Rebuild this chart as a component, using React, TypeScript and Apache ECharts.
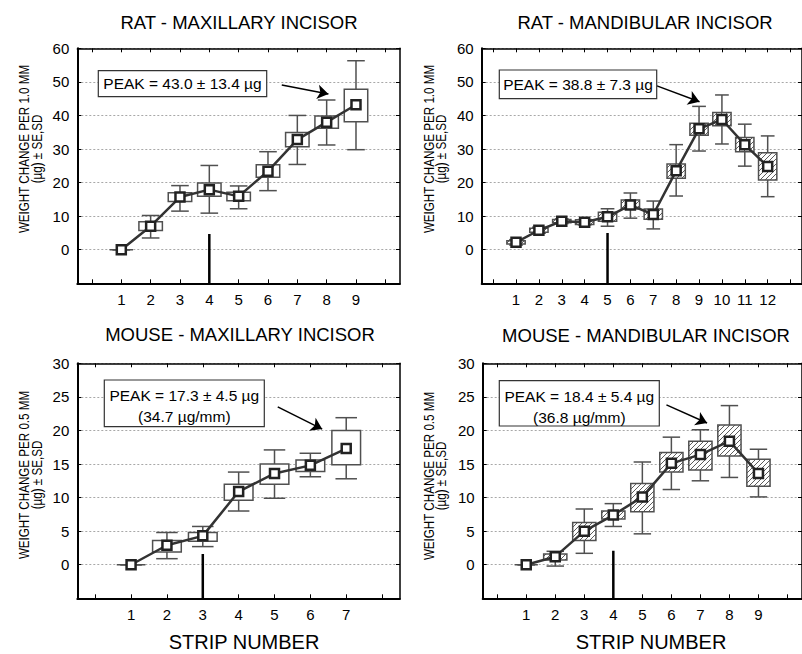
import React, { useEffect, useRef } from "react";
import * as echarts from "echarts";

const FONT = "'Liberation Sans', Arial, sans-serif";

// ---------- Rat, maxillary incisor ----------
const ratMaxStrips = [1, 2, 3, 4, 5, 6, 7, 8, 9];
const ratMaxMean = [0, 7.0, 15.7, 17.9, 15.9, 23.4, 32.8, 38.0, 43.2];
const ratMaxSeLow = [0, 5.7, 14.4, 15.9, 14.6, 21.6, 30.7, 36.2, 38.1];
const ratMaxSeHigh = [0, 8.3, 17.0, 19.9, 17.1, 25.3, 34.9, 39.8, 47.8];
const ratMaxSdLow = [0, 3.5, 11.5, 10.9, 12.2, 17.6, 25.4, 31.2, 29.8];
const ratMaxSdHigh = [0, 10.2, 19.1, 25.1, 19.0, 29.2, 40.0, 44.6, 56.3];

// ---------- Rat, mandibular incisor ----------
const ratManStrips = [1, 2, 3, 4, 5, 6, 7, 8, 9, 10, 11, 12];
const ratManMean = [2.2, 5.8, 8.5, 8.2, 9.8, 13.3, 10.5, 23.5, 36.0, 38.8, 31.3, 24.8];
const ratManSeLow = [1.7, 5.2, 8.0, 7.5, 8.5, 12.1, 9.1, 21.3, 34.1, 36.9, 29.2, 20.8];
const ratManSeHigh = [2.7, 6.4, 9.0, 8.9, 11.2, 14.8, 12.1, 25.5, 37.7, 40.9, 33.4, 28.9];
const ratManSdLow = [1.4, 4.9, 7.8, 7.4, 7.0, 9.4, 6.2, 16.0, 29.4, 31.5, 24.9, 15.8];
const ratManSdHigh = [3.0, 6.7, 9.2, 9.0, 12.2, 16.9, 14.5, 31.3, 42.7, 46.1, 37.4, 33.9];

// ---------- Mouse, maxillary incisor ----------
const mouseMaxStrips = [1, 2, 3, 4, 5, 6, 7];
const mouseMaxMean = [0, 2.9, 4.3, 10.9, 13.6, 14.8, 17.3];
const mouseMaxSeLow = [0, 1.9, 3.5, 9.6, 12.0, 13.9, 14.9];
const mouseMaxSeHigh = [0, 3.6, 4.8, 12.0, 15.0, 15.6, 20.0];
const mouseMaxSdLow = [0, 0.9, 2.7, 8.0, 9.9, 13.1, 12.8];
const mouseMaxSdHigh = [0, 4.8, 5.7, 13.8, 17.1, 16.6, 21.9];

// ---------- Mouse, mandibular incisor ----------
const mouseManStrips = [1, 2, 3, 4, 5, 6, 7, 8, 9];
const mouseManMean = [0, 1.2, 5.0, 7.4, 10.1, 15.1, 16.4, 18.4, 13.6];
const mouseManSeLow = [0, 0.7, 3.6, 6.8, 7.9, 13.8, 14.1, 16.2, 11.7];
const mouseManSeHigh = [0, 1.6, 6.3, 8.0, 12.1, 16.7, 18.4, 20.8, 15.7];
const mouseManSdLow = [0, -0.2, 1.7, 5.7, 4.6, 11.2, 12.5, 13.0, 10.1];
const mouseManSdHigh = [0, 2.0, 8.3, 9.1, 15.3, 19.0, 20.1, 23.7, 17.2];

// tick labels
const ratYTicks = [0, 10, 20, 30, 40, 50, 60];
const mouseYTicks = [0, 5, 10, 15, 20, 25, 30];

// incisal cut marker (strip, top value) per panel
const ratMaxCut = [4, 4.7];
const ratManCut = [5, 5.0];
const mouseMaxCut = [3, 1.6];
const mouseManCut = [4, 2.1];

// annotation texts
const ratMaxPeak = ["PEAK = 43.0 ± 13.4 µg"];
const ratManPeak = ["PEAK = 38.8 ± 7.3 µg"];
const mouseMaxPeak = ["PEAK = 17.3 ± 4.5 µg", "(34.7 µg/mm)"];
const mouseManPeak = ["PEAK = 18.4 ± 5.4 µg", "(36.8 µg/mm)"];

const panels = [
  {
    title: "RAT - MAXILLARY INCISOR",
    yName: ["WEIGHT CHANGE PER 1.0 MM", "(µg) ± SE,SD"],
    strips: ratMaxStrips, mean: ratMaxMean, seLow: ratMaxSeLow, seHigh: ratMaxSeHigh,
    sdLow: ratMaxSdLow, sdHigh: ratMaxSdHigh, cut: ratMaxCut, peak: ratMaxPeak,
    yTicks: ratYTicks, yMin: -10, yMax: 60, yStep: 10, xMax: 10.5, hatch: false,
    grid: { left: 77.3, top: 48.3, width: 322.7, height: 235 },
    titlePos: [239, 22], yNamePos: [24.5, 149],
    box: { x: 98.3, y: 70.7, w: 168.4, h: 26 },
    arrowFrom: [6.47, 49.1], arrowTo: [8.06, 46.4],
    xName: false,
  },
  {
    title: "RAT - MANDIBULAR INCISOR",
    yName: ["WEIGHT CHANGE PER 1.0 MM", "(µg) ± SE,SD"],
    strips: ratManStrips, mean: ratManMean, seLow: ratManSeLow, seHigh: ratManSeHigh,
    sdLow: ratManSdLow, sdHigh: ratManSdHigh, cut: ratManCut, peak: ratManPeak,
    yTicks: ratYTicks, yMin: -10, yMax: 60, yStep: 10, xMax: 13.5, hatch: true,
    grid: { left: 481.7, top: 48.3, width: 325.8, height: 235 },
    titlePos: [645, 22], yNamePos: [429, 149],
    box: { x: 499.3, y: 70, w: 157.4, h: 28.7 },
    arrowFrom: [7.16, 48.8], arrowTo: [9.02, 44.1],
    xName: false,
  },
  {
    title: "MOUSE - MAXILLARY INCISOR",
    yName: ["WEIGHT CHANGE PER 0.5 MM", "(µg) ± SE,SD"],
    strips: mouseMaxStrips, mean: mouseMaxMean, seLow: mouseMaxSeLow, seHigh: mouseMaxSeHigh,
    sdLow: mouseMaxSdLow, sdHigh: mouseMaxSdHigh, cut: mouseMaxCut, peak: mouseMaxPeak,
    yTicks: mouseYTicks, yMin: -5, yMax: 30, yStep: 5, xMax: 8.5, hatch: false,
    grid: { left: 77.3, top: 363.3, width: 322.7, height: 235 },
    titlePos: [240, 334], yNamePos: [24.5, 475],
    box: { x: 104.3, y: 380, w: 160, h: 46.7 },
    arrowFrom: [5.09, 23.5], arrowTo: [6.33, 20.2],
    xName: [244, 642],
  },
  {
    title: "MOUSE - MANDIBULAR INCISOR",
    yName: ["WEIGHT CHANGE PER 0.5 MM", "(µg) ± SE,SD"],
    strips: mouseManStrips, mean: mouseManMean, seLow: mouseManSeLow, seHigh: mouseManSeHigh,
    sdLow: mouseManSdLow, sdHigh: mouseManSdHigh, cut: mouseManCut, peak: mouseManPeak,
    yTicks: mouseYTicks, yMin: -5, yMax: 30, yStep: 5, xMax: 10.5, hatch: true,
    grid: { left: 482.7, top: 363.3, width: 322.7, height: 235 },
    titlePos: [646, 335], yNamePos: [429, 476],
    box: { x: 499.3, y: 380.7, w: 160, h: 45.3 },
    arrowFrom: [5.83, 23.8], arrowTo: [7.23, 21.1],
    xName: [651, 642],
  },
];

function hatchLines(x0: number, y0: number, w: number, h: number, step: number) {
  const out: any[] = [];
  const start = Math.ceil((x0 + y0) / step) * step;
  for (let c = start; c < x0 + w + y0 + h; c += step) {
    const xa = Math.max(x0, c - (y0 + h));
    const xb = Math.min(x0 + w, c - y0);
    if (xb > xa + 0.3) {
      out.push({
        type: "line",
        shape: { x1: xa, y1: c - xa, x2: xb, y2: c - xb },
        style: { stroke: "#4a4a4a", lineWidth: 0.9 },
      });
    }
  }
  return out;
}

function makeRender(hatch: boolean) {
  return (params: any, api: any) => {
    const x = api.value(0);
    const bl = api.value(1);
    const bh = api.value(2);
    const sl = api.value(3);
    const sh = api.value(4);
    const w = api.size([0.8, 0])[0];
    const cw = api.size([0.6, 0])[0];
    const [cx, yBl] = api.coord([x, bl]);
    const yBh = api.coord([x, bh])[1];
    const ySl = api.coord([x, sl])[1];
    const ySh = api.coord([x, sh])[1];
    const stroke = "#505050";
    const lw = 1.5;
    const children: any[] = [
      { type: "line", shape: { x1: cx, y1: ySh, x2: cx, y2: ySl }, style: { stroke, lineWidth: lw } },
      { type: "line", shape: { x1: cx - cw / 2, y1: ySh, x2: cx + cw / 2, y2: ySh }, style: { stroke, lineWidth: lw } },
      { type: "line", shape: { x1: cx - cw / 2, y1: ySl, x2: cx + cw / 2, y2: ySl }, style: { stroke, lineWidth: lw } },
      {
        type: "rect",
        shape: { x: cx - w / 2, y: yBh, width: w, height: yBl - yBh },
        style: { fill: "#fff", stroke: "none" },
      },
    ];
    if (hatch && yBl - yBh > 1) {
      children.push(...hatchLines(cx - w / 2, yBh, w, yBl - yBh, 5));
    }
    children.push({
      type: "rect",
      shape: { x: cx - w / 2, y: yBh, width: w, height: yBl - yBh },
      style: { fill: "none", stroke, lineWidth: lw },
    });
    return { type: "group", children };
  };
}

export default function App() {
  const ref = useRef<HTMLDivElement>(null);
  useEffect(() => {
    document.body.style.margin = "0";
    if (!ref.current) return;
    const chart = echarts.init(ref.current, undefined, { renderer: "svg" });

    const grids: any[] = [];
    const xAxes: any[] = [];
    const yAxes: any[] = [];
    const series: any[] = [];
    const graphics: any[] = [];

    panels.forEach((p, i) => {
      grids.push({ ...p.grid, containLabel: false });
      const xTicks: number[] = [];
      for (let v = 0; v <= p.xMax; v += 1) xTicks.push(v);
      const baseX = {
        type: "value", gridIndex: i, min: -0.5, max: p.xMax,
        splitLine: { show: false },
      };
      xAxes.push({
        ...baseX, position: "bottom",
        axisLine: { show: true, onZero: false, lineStyle: { color: "#000", width: 2 } },
        axisTick: { show: true, inside: true, length: 4, customValues: xTicks, lineStyle: { color: "#000", width: 1 } },
        axisLabel: { show: true, customValues: p.strips, fontSize: 15, color: "#000", margin: 9, fontFamily: FONT },
      });
      xAxes.push({
        ...baseX, position: "top",
        axisLine: { show: true, onZero: false, lineStyle: { color: "#000", width: 1.5 } },
        axisTick: { show: true, inside: true, length: 4, customValues: xTicks, lineStyle: { color: "#000", width: 1 } },
        axisLabel: { show: false },
      });
      const baseY = {
        type: "value", gridIndex: i, min: p.yMin, max: p.yMax, interval: p.yStep,
      };
      yAxes.push({
        ...baseY, position: "left",
        axisLine: { show: true, onZero: false, lineStyle: { color: "#000", width: 2 } },
        axisTick: { show: true, inside: true, length: 4, customValues: p.yTicks, lineStyle: { color: "#000", width: 1 } },
        axisLabel: { show: true, customValues: p.yTicks, fontSize: 15, color: "#000", margin: 8, fontFamily: FONT },
        splitLine: { show: true, lineStyle: { color: "#a8a8a8", width: 1, type: [2, 2] } },
      });
      yAxes.push({
        ...baseY, position: "right",
        axisLine: { show: true, onZero: false, lineStyle: { color: "#000", width: 1.5 } },
        axisTick: { show: true, inside: true, length: 4, customValues: p.yTicks, lineStyle: { color: "#000", width: 1 } },
        axisLabel: { show: false },
        splitLine: { show: false },
      });

      series.push({
        type: "custom", xAxisIndex: 2 * i, yAxisIndex: 2 * i, z: 2, silent: true,
        data: p.strips.map((s, k) => [s, p.seLow[k], p.seHigh[k], p.sdLow[k], p.sdHigh[k]]),
        encode: { x: 0, y: [1, 2, 3, 4] },
        renderItem: makeRender(p.hatch),
      });
      series.push({
        type: "line", xAxisIndex: 2 * i, yAxisIndex: 2 * i, z: 3, silent: true,
        data: [[p.cut[0], p.yMin], [p.cut[0], p.cut[1]]],
        symbol: "none",
        lineStyle: { color: "#000", width: 2.5 },
        markLine: {
          silent: true, symbol: ["none", "arrow"], symbolSize: 11,
          label: { show: false },
          lineStyle: { color: "#000", width: 1.5, type: "solid" },
          data: [[{ coord: p.arrowFrom }, { coord: p.arrowTo }]],
        },
      });
      series.push({
        type: "line", xAxisIndex: 2 * i, yAxisIndex: 2 * i, z: 4, silent: true,
        data: p.strips.map((s, k) => [s, p.mean[k]]),
        symbol: "rect", symbolSize: 9, showSymbol: true,
        itemStyle: { color: "#fff", borderColor: "#222", borderWidth: 2.5 },
        lineStyle: { color: "#333", width: 2.5 },
      });

      // title
      graphics.push({
        type: "text", x: p.titlePos[0], y: p.titlePos[1], z: 100,
        style: { text: p.title, font: `18.5px ${FONT}`, fill: "#000", textAlign: "center", textVerticalAlign: "middle" },
      });
      // y axis name (two lines), condensed
      p.yName.forEach((line, li) => {
        graphics.push({
          type: "text", x: p.yNamePos[0] + li * 12.5, y: p.yNamePos[1], rotation: Math.PI / 2,
          scaleX: 0.83, z: 100,
          style: { text: line, font: `14px ${FONT}`, fill: "#000", textAlign: "center", textVerticalAlign: "middle" },
        });
      });
      // peak annotation
      graphics.push({
        type: "rect", z: 100,
        shape: { x: p.box.x, y: p.box.y, width: p.box.w, height: p.box.h },
        style: { fill: "#fff", stroke: "#333", lineWidth: 1.2 },
      });
      const n = p.peak.length;
      p.peak.forEach((line, li) => {
        const cy = n === 1 ? p.box.y + p.box.h / 2 : p.box.y + 15.5 + li * 21;
        graphics.push({
          type: "text", x: p.box.x + p.box.w / 2, y: cy, z: 101,
          style: { text: line, font: `15.5px ${FONT}`, fill: "#000", textAlign: "center", textVerticalAlign: "middle" },
        });
      });
      if (p.xName) {
        graphics.push({
          type: "text", x: (p.xName as number[])[0], y: (p.xName as number[])[1], z: 100,
          style: { text: "STRIP NUMBER", font: `20px ${FONT}`, fill: "#000", textAlign: "center", textVerticalAlign: "middle" },
        });
      }
    });

    chart.setOption({
      animation: false,
      backgroundColor: "#fff",
      grid: grids,
      xAxis: xAxes,
      yAxis: yAxes,
      series,
      graphic: { elements: graphics },
    });
    return () => chart.dispose();
  }, []);
  return <div ref={ref} style={{ width: 802, height: 654 }} />;
}
